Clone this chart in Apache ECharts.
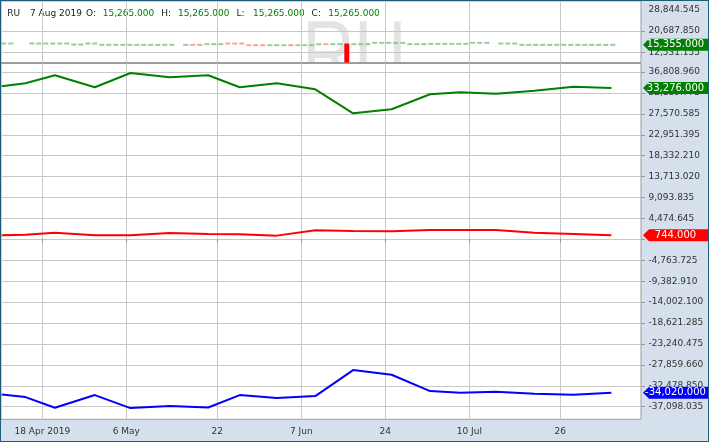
<!DOCTYPE html>
<html>
<head>
<meta charset="utf-8">
<script src="https://cdn.jsdelivr.net/npm/echarts@6/dist/echarts.min.js"></script>
<style>
  html, body { margin: 0; padding: 0; background: #fff; }
  #chart { width: 709px; height: 442px; box-sizing: border-box; border: 1px solid #1f5c7a; }
</style>
</head>
<body>
<div id="chart"></div>
<script>
// x is counted in trading-day slots from the left edge of the plot
var dayTicks = [6, 18, 31, 43, 55, 67, 80];
var dayTickLabels = ['18 Apr 2019', '6 May', '22', '7 Jun', '24', '10 Jul', '26'];

// weekly points of the three lower lines
var pointDays = [0.2, 3.6, 7.8, 13.5, 18.6, 24.2, 29.7, 34.2, 39.5, 45.0, 50.4, 55.9, 61.4, 65.7, 70.8, 76.3, 81.9, 87.3];
var greenValues = [33652, 34314, 36080, 33431, 36588, 35639, 36080, 33431, 34314, 32989, 27690, 28573, 31885, 32327, 32017, 32680, 33563, 33276];
var redValues = [744, 899, 1340, 744, 744, 1274, 1053, 965, 678, 1848, 1716, 1627, 1936, 1936, 1936, 1340, 1053, 744];
var blueValues = [-34395, -34969, -37332, -34528, -37398, -36957, -37266, -34528, -35190, -34749, -29008, -30046, -33645, -34020, -33799, -34241, -34462, -34020];

// top pane: one close per day (null = nothing drawn)
var topCloses = [
  15870, 15870, null, null, 15870, 15870, 15870, 15870, 15870, 15870,
  15480, 15480, 15870, 15870, 15355, 15355, 15355, 15355, 15355, 15355,
  15355, 15355, 15355, 15355, 15355, null, 15355, 15355, 15355, 15610,
  15610, 15610, 15870, 15870, 15870, 15230, 15230, 15230, 15230, 15230,
  15230, 15230, 15230, 15230, 15230, 15610, 15610, 15610, 15610, null,
  15610, 15610, 15610, 16120, 16120, 16120, 16120, 16120, 15610, 15610,
  15610, 15740, 15740, 15740, 15740, 15740, 15740, 16120, 16120, 16120,
  null, 15870, 15870, 15870, 15355, 15355, 15355, 15355, 15355, 15355,
  15355, 15355, 15355, 15355, 15355, 15355, 15355, 15355
];
var topDownDays = [27, 28, 32, 33, 34, 35, 36, 37, 41, 46];
var spikeDay = 49;
var spikeOpen = 15870;
var topLast = 15355;

var topTicks = [28844.545, 20687.850, 12531.155];
var topGridTicks = [20687.850, 12531.155];
var bottomTicks = [36808.960, 32189.773, 27570.585, 22951.395, 18332.210, 13713.020, 9093.835, 4474.645,
  -144.543, -4763.725, -9382.910, -14002.100, -18621.285, -23240.475, -27859.660, -32478.850, -37098.035];
// the label under the red tag is not visible in the original
var bottomLabels = bottomTicks.filter(function (v) { return v !== -144.543; });

var headerSymbol = 'RU';
var headerDate = '7 Aug 2019';
var ohlcNames = ['O:', 'H:', 'L:', 'C:'];
var ohlcValues = [15265, 15265, 15265, 15265];

var X_MIN = 0.1, X_MAX = 91.53;
var FONT = 'DejaVu Sans';

function fmt(v) {
  var s = Math.abs(v).toFixed(3).split('.');
  s[0] = s[0].replace(/\B(?=(\d{3})+(?!\d))/g, ',');
  return (v < 0 ? '-' : '') + s[0] + '.' + s[1];
}

function xAxis(gridIndex, withLabels) {
  return {
    type: 'value', gridIndex: gridIndex, min: X_MIN, max: X_MAX,
    axisLine: { show: false },
    axisTick: { show: withLabels, customValues: dayTicks, length: 4, lineStyle: { color: '#999' } },
    axisLabel: {
      show: withLabels, customValues: dayTicks, margin: 8,
      color: '#333', fontFamily: FONT, fontSize: 9,
      formatter: function (v) { return dayTickLabels[dayTicks.indexOf(v)]; }
    },
    splitLine: { show: true, lineStyle: { color: '#c8c8c8' } }
  };
}

function yAxis(gridIndex, min, max, labels, ticks) {
  return {
    type: 'value', gridIndex: gridIndex, position: 'right', min: min, max: max,
    axisLine: { show: false },
    axisTick: { show: true, customValues: ticks, length: 4, lineStyle: { color: '#999' } },
    axisLabel: {
      customValues: labels, margin: 7.5, align: 'left',
      color: '#333', fontFamily: FONT, fontSize: 9, formatter: fmt
    },
    splitLine: { show: true, lineStyle: { color: '#c8c8c8' } }
  };
}

function tag(value, color) {
  return {
    symbol: 'path://M0,6L6,0L65,0L65,12L6,12Z',
    symbolSize: [65, 12],
    symbolKeepAspect: false,
    symbolOffset: [34.5, 0],
    silent: true,
    itemStyle: { color: color },
    label: {
      show: true, position: 'inside', color: '#fff', fontFamily: FONT, fontSize: 10,
      formatter: function (p) { return fmt(p.value); }
    },
    data: [{ coord: [X_MAX, value], value: value }]
  };
}

function line(values, color) {
  return {
    type: 'line', xAxisIndex: 1, yAxisIndex: 1,
    data: pointDays.map(function (d, i) { return [d, values[i]]; }),
    symbol: 'none',
    lineStyle: { color: color, width: 2 },
    itemStyle: { color: color },
    markPoint: tag(values[values.length - 1], color),
    z: 3
  };
}

var dashData = [];
topCloses.forEach(function (c, d) {
  if (c == null) return;
  var down = topDownDays.indexOf(d) >= 0;
  dashData.push({ value: [d + 0.5, c], itemStyle: { color: down ? '#ff8686' : '#80c080' } });
});

var graphics = [
  { type: 'rect', silent: true, z: -20, shape: { x: 640, y: 0, width: 67, height: 440 }, style: { fill: '#d6e0ec' } },
  { type: 'rect', silent: true, z: -20, shape: { x: 0, y: 418.3, width: 707, height: 22 }, style: { fill: '#d6e0ec' } },
  // watermark, stretched tall and cut off by the lower pane
  { type: 'text', silent: true, z: -10, x: 301.3, y: 22, scaleX: 1, scaleY: 1.25, originX: 0, originY: 0,
    style: { text: 'RU', x: 0, y: 29.2, verticalAlign: 'middle',
      font: '72px "Liberation Sans"', fill: '#e4e4e4' } },
  { type: 'text', silent: true, style: { text: headerSymbol, x: 6.3, y: 13, verticalAlign: 'middle',
      font: '9px "' + FONT + '"', fill: '#1a1a1a' } },
  { type: 'text', silent: true, style: { text: headerDate, x: 29, y: 13, verticalAlign: 'middle',
      font: '9px "' + FONT + '"', fill: '#1a1a1a' } }
];
ohlcNames.forEach(function (n, i) {
  graphics.push({ type: 'text', silent: true, style: { text: n, x: 85 + i * 75.2, y: 13, verticalAlign: 'middle',
    font: '9px "' + FONT + '"', fill: '#1a1a1a' } });
  graphics.push({ type: 'text', silent: true, style: { text: fmt(ohlcValues[i]), x: 101.7 + i * 75.2, y: 13,
    verticalAlign: 'middle', font: '9px "' + FONT + '"', fill: '#008000' } });
});

var chart = echarts.init(document.getElementById('chart'), null, { renderer: 'canvas' });
chart.setOption({
  animation: false,
  backgroundColor: '#fff',
  graphic: graphics,
  grid: [
    { left: 0, top: 0, width: 640, height: 61.5, show: true, backgroundColor: 'transparent',
      borderColor: '#9c9c9c', borderWidth: 1, outerBoundsMode: 'none' },
    { left: 0, top: 62.5, width: 640, height: 355.8, show: true, backgroundColor: '#fff',
      borderColor: '#9c9c9c', borderWidth: 1, outerBoundsMode: 'none' }
  ],
  xAxis: [xAxis(0, false), xAxis(1, true)],
  yAxis: [
    yAxis(0, 8566.65, 32231.85, topTicks, topGridTicks),
    yAxis(1, -39878.3, 38685.9, bottomLabels, bottomTicks)
  ],
  series: [
    {
      type: 'scatter', xAxisIndex: 0, yAxisIndex: 0, data: dashData,
      symbol: 'rect', symbolSize: [5, 2], silent: true,
      markPoint: tag(topLast, '#008000')
    },
    {
      type: 'bar', xAxisIndex: 0, yAxisIndex: 0, barWidth: 5, silent: true,
      data: [[spikeDay + 0.5, spikeOpen]], itemStyle: { color: '#ff0000' }
    },
    line(greenValues, '#008000'),
    line(redValues, '#ff0000'),
    line(blueValues, '#0000ff')
  ]
});
</script>
</body>
</html>
